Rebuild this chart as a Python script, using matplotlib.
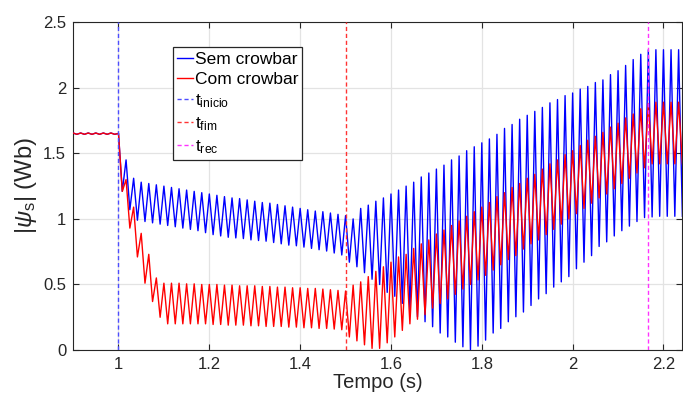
import numpy as np
import matplotlib
matplotlib.use('Agg')
import matplotlib.pyplot as plt
from matplotlib.ticker import FuncFormatter

plt.rcParams['font.family'] = ['Liberation Sans', 'DejaVu Sans']
plt.rcParams['mathtext.fontset'] = 'custom'
plt.rcParams['mathtext.rm'] = 'Liberation Sans'
plt.rcParams['mathtext.it'] = 'Liberation Sans:italic'

# ---------------- data ----------------
t_start = 0.9          # s, first sample
half_period = 1 / 120  # s, samples at peaks and troughs of the 60 Hz ripple

pre_fault = [1.655, 1.645, 1.655, 1.645, 1.655, 1.645, 1.655, 1.645,
             1.655, 1.645, 1.655, 1.645, 1.652]

blue_troughs = [1.21, 1.07, 0.99, 0.98, 0.97, 0.96, 0.95, 0.94, 0.93, 0.92,
                0.91, 0.895, 0.88, 0.87, 0.86, 0.855, 0.85, 0.84, 0.835, 0.83,
                0.82, 0.81, 0.80, 0.795, 0.785, 0.775, 0.765, 0.755, 0.74, 0.725,
                0.67, 0.635, 0.59, 0.54, 0.50, 0.44, 0.41, 0.356, 0.305, 0.254,
                0.216, 0.178, 0.13, 0.10, 0.06, 0.025, 0.003, 0.03, 0.076, 0.13,
                0.165, 0.216, 0.254, 0.29, 0.34, 0.39, 0.43, 0.48, 0.52, 0.56,
                0.62, 0.67, 0.72, 0.79, 0.825, 0.87, 0.91, 0.945, 0.98, 1.01,
                1.015, 1.02, 1.02, 1.02, 1.02]
blue_peaks = [1.45, 1.31, 1.28, 1.27, 1.26, 1.25, 1.24, 1.23, 1.22, 1.21,
              1.20, 1.19, 1.18, 1.17, 1.16, 1.155, 1.145, 1.135, 1.125, 1.12,
              1.11, 1.10, 1.09, 1.08, 1.07, 1.06, 1.055, 1.045, 1.035, 1.025,
              1.00, 1.08, 1.105, 1.135, 1.16, 1.19, 1.22, 1.25, 1.28, 1.32,
              1.35, 1.38, 1.41, 1.45, 1.48, 1.52, 1.55, 1.58, 1.61, 1.645,
              1.69, 1.72, 1.76, 1.79, 1.82, 1.85, 1.885, 1.91, 1.94, 1.96,
              1.99, 2.01, 2.04, 2.06, 2.10, 2.13, 2.17, 2.215, 2.255, 2.29,
              2.29, 2.29, 2.29, 2.29]

red_troughs = [1.21, 0.93, 0.71, 0.51, 0.37, 0.25, 0.20, 0.20, 0.20, 0.20,
               0.20, 0.20, 0.195, 0.195, 0.19, 0.19, 0.19, 0.185, 0.185, 0.18,
               0.18, 0.18, 0.175, 0.175, 0.17, 0.17, 0.165, 0.165, 0.16, 0.155,
               0.10, 0.07, 0.04, 0.013, 0.013, 0.055, 0.10, 0.15, 0.20, 0.235,
               0.27, 0.32, 0.355, 0.39, 0.425, 0.465, 0.50, 0.535, 0.57, 0.61,
               0.65, 0.69, 0.72, 0.77, 0.81, 0.84, 0.88, 0.92, 0.96, 1.00,
               1.04, 1.08, 1.12, 1.16, 1.19, 1.23, 1.27, 1.31, 1.35, 1.39,
               1.42, 1.42, 1.42, 1.42, 1.42]
red_peaks = [1.30, 1.09, 0.89, 0.73, 0.55, 0.51, 0.51, 0.51, 0.505, 0.505,
             0.50, 0.50, 0.50, 0.495, 0.495, 0.49, 0.49, 0.49, 0.485, 0.485,
             0.48, 0.48, 0.475, 0.475, 0.47, 0.47, 0.465, 0.46, 0.455, 0.45,
             0.495, 0.52, 0.56, 0.60, 0.635, 0.67, 0.71, 0.73, 0.775, 0.81,
             0.84, 0.885, 0.915, 0.95, 0.985, 1.02, 1.055, 1.09, 1.125, 1.17,
             1.20, 1.24, 1.27, 1.31, 1.34, 1.38, 1.42, 1.45, 1.49, 1.52,
             1.56, 1.60, 1.63, 1.66, 1.70, 1.73, 1.77, 1.80, 1.84, 1.88,
             1.89, 1.89, 1.89, 1.89]

t_inicio = 1.0
t_fim = 1.5
t_rec = 2.167

series_labels = ['Sem crowbar', 'Com crowbar']
event_labels = [r'$\mathregular{t_{inicio}}$', r'$\mathregular{t_{fim}}$',
                r'$\mathregular{t_{rec}}$']
x_ticks = [1, 1.2, 1.4, 1.6, 1.8, 2, 2.2]
y_ticks = [0, 0.5, 1, 1.5, 2, 2.5]


def build(pre, troughs, peaks):
    vals = list(pre)
    for k in range(len(troughs)):
        vals.append(troughs[k])
        if k < len(peaks):
            vals.append(peaks[k])
    vals = np.array(vals)
    t = t_start + np.arange(len(vals)) * half_period
    return t, vals


t_b, y_b = build(pre_fault, blue_troughs, blue_peaks)
t_r, y_r = build(pre_fault, red_troughs, red_peaks)

# ---------------- figure ----------------
fig = plt.figure(figsize=(6.83, 3.96), dpi=100)
ax = fig.add_axes([0.107, 0.116, 0.891, 0.828])

dark = '#262626'
ax.plot(t_b, y_b, color=(0, 0, 1), lw=1.0, label=series_labels[0], zorder=3)
ax.plot(t_r, y_r, color=(1, 0, 0), lw=1.0, label=series_labels[1], zorder=4)

dash = (0, (3, 2))
ax.axvline(t_inicio, color=(0.3, 0.3, 1), lw=1.0, ls=dash, label=event_labels[0], zorder=5)
ax.axvline(t_fim, color=(1, 0.2, 0.2), lw=1.0, ls=dash, label=event_labels[1], zorder=5)
ax.axvline(t_rec, color=(1, 0.2, 1), lw=1.0, ls=dash, label=event_labels[2], zorder=5)

ax.set_xlim(0.9, 2.24)
ax.set_ylim(0, 2.5)
ax.set_xticks(x_ticks)
ax.set_yticks(y_ticks)
fmt = FuncFormatter(lambda v, p: '%g' % v)
ax.xaxis.set_major_formatter(fmt)
ax.yaxis.set_major_formatter(fmt)

ax.grid(True, color='#e3e3e3', lw=0.9, zorder=0)
ax.set_axisbelow(True)
for s in ax.spines.values():
    s.set_color(dark)
    s.set_linewidth(0.8)
ax.tick_params(direction='in', length=4, width=0.8, top=True, right=True,
               colors=dark, labelsize=12, pad=5)

ax.set_xlabel('Tempo (s)', fontsize=14.5, color=dark, labelpad=1)
ax.set_ylabel(r'|$\psi_\mathregular{s}$| (Wb)', fontsize=17, color=dark, labelpad=3)

leg = ax.legend(loc='upper left', bbox_to_anchor=(0.164, 0.924), borderaxespad=0,
                fontsize=12.5, handlelength=0.9, handletextpad=0.1,
                labelspacing=0.3, borderpad=0.25, fancybox=False,
                framealpha=1, edgecolor=dark)
leg.get_frame().set_linewidth(0.9)

fig.savefig('out.png', dpi=100)
